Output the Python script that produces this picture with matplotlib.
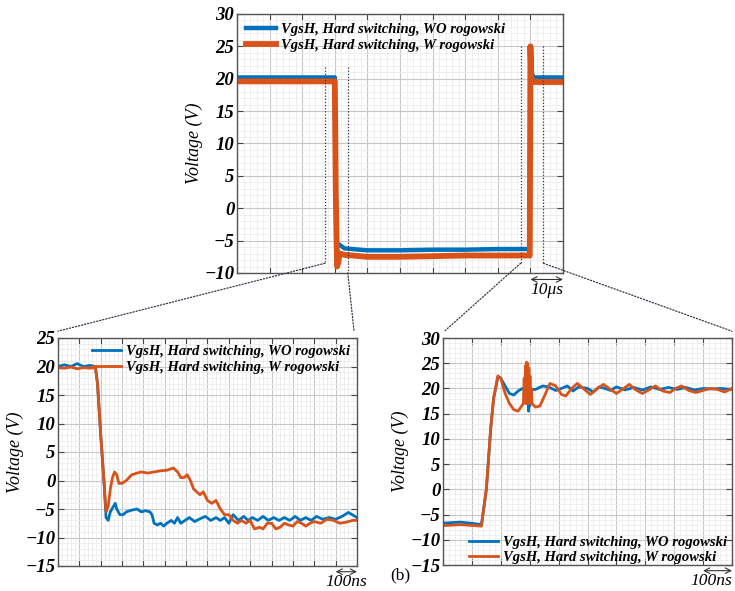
import matplotlib
matplotlib.use("Agg")
import matplotlib.pyplot as plt
import numpy as np
from matplotlib.patches import ConnectionPatch
from matplotlib.ticker import MultipleLocator

plt.rcParams['font.family'] = ['Liberation Serif', 'DejaVu Serif']

BLUE = '#0072BD'
ORANGE = '#D95319'
labels = ['VgsH, Hard switching, WO rogowski', 'VgsH, Hard switching, W rogowski']

# overview (us)
top_t_wo = [0, 30, 30.2, 30.6, 31, 33, 40, 50, 60, 70, 80, 89.8, 90, 90.3, 91, 100]
top_v_wo = [20.2, 20.2, 5, -6, -5.5, -6.2, -6.5, -6.5, -6.4, -6.4, -6.3, -6.3, 20, 21, 20.2, 20.2]
top_t_w = [0, 30, 30.3, 30.5, 30.7, 31, 31.5, 33, 40, 50, 60, 70, 80, 89.8, 90.0, 90.3, 91, 100]
top_v_w = [19.6, 19.6, 2.5, -4, -9, -8.5, -7, -7.2, -7.5, -7.5, -7.4, -7.3, -7.3, -7.3, 25, 20, 19.5, 19.5]

# turn-off zoom (ns)
off_t_wo = [0, 30, 60, 90, 120, 150, 175, 185, 200, 215, 225, 235, 245, 260, 268, 275, 290, 305,
            320, 345, 370, 390, 410, 430, 440, 450, 465, 480, 495, 510, 530, 545, 560, 575, 595,
            615, 640, 660, 690, 715, 740, 760, 780, 800, 820, 845, 870, 890, 910, 935, 960, 985,
            1010, 1035, 1060, 1085, 1110, 1135, 1160, 1185, 1210, 1240, 1270, 1300, 1330, 1360, 1400]
off_v_wo = [20, 20.3, 20, 20.5, 20, 20.2, 20, 17, 8, 0, -6.5, -7, -5.5, -4.5, -4, -5, -6, -6,
            -5.5, -5.2, -5, -5.5, -5.3, -5.5, -6, -7.5, -7.8, -7.5, -8, -7.5, -7, -7.5, -6.5, -7.5, -7,
            -6.5, -7.2, -6.8, -6.3, -7, -6.5, -7, -6.5, -7.5, -6, -7, -6.3, -7, -6.5, -7, -6.3, -7,
            -6.5, -7, -6.5, -7, -6.3, -7, -6.5, -7, -6.3, -6.8, -6.5, -6.8, -6.3, -5.6, -6.5]
off_t_w = [0, 30, 60, 90, 120, 150, 175, 185, 200, 215, 225, 235, 245, 255, 265, 275, 285, 300,
           320, 345, 370, 390, 420, 450, 480, 510, 540, 560, 575, 590, 605, 620, 635, 650, 665,
           680, 700, 720, 740, 760, 780, 800, 820, 840, 860, 880, 900, 920, 945, 960, 980, 1000,
           1020, 1040, 1060, 1080, 1100, 1120, 1140, 1160, 1180, 1200, 1230, 1260, 1290, 1320,
           1350, 1380, 1400]
off_v_w = [19.8, 19.7, 19.9, 19.6, 19.8, 19.7, 19.8, 17, 8, 0, -5.5, -4.5, -1.5, 0.5, 1.5, 1, -0.5,
           -0.5, 0, 1, 1.3, 1.5, 1.3, 1.5, 1.7, 1.8, 2.2, 1.5, 0.5, 0.5, 1, 0, -1.5, -2, -2.5,
           -2, -3.5, -4, -3.5, -5, -6, -6, -7, -7.5, -7, -7.5, -7, -8.5, -8.2, -8.5, -7.5, -7.5,
           -8.5, -8.2, -7.5, -7.8, -8, -7.2, -7.5, -8, -7.5, -7.2, -7.5, -6.8, -7, -7.5,
           -7.3, -7, -7]

# turn-on zoom (ns)
on_t_wo = [0, 60, 110, 133, 150, 165, 175, 190, 200, 215, 230, 245, 260, 275, 283,
           286, 288, 290, 292, 294, 296, 298, 300, 302, 304, 306,
           320, 345, 365, 390, 410, 430, 450, 470, 500, 520,
           540, 560, 580, 600, 630, 660, 690, 720, 750, 780, 810, 840, 870, 900, 930, 960, 1000]
on_v_wo = [-6.7, -6.5, -6.8, -7.0, 0, 12, 18, 22.3, 22, 20.5, 19, 18.7, 19.5, 20, 19.5,
           19.5, 18, 19.8, 17, 19.5, 15.5, 19.5, 16.5, 19.5, 18, 19.8,
           19.8, 20.5, 20.3, 19.6, 20, 20.5, 19.5, 20.3, 20, 19.3,
           20.3, 20, 19.6, 20.3, 19.7, 20.2, 19.7, 20.3, 19.8, 20.2, 19.8, 20.2, 19.7, 20, 19.9, 20, 19.8]
on_t_w = [0, 60, 110, 133, 150, 165, 175, 190, 200, 215, 230, 245, 260, 272,
          278, 281, 283, 285, 287, 289, 291, 293, 295, 297, 299, 301, 303, 305, 308,
          320, 335, 355, 370, 390, 410, 425, 445, 465,
          485, 510, 535, 555, 575, 600, 625, 645, 665, 690, 715, 735, 760, 785, 805, 825, 850,
          875, 900, 925, 950, 975, 1000]
on_v_w = [-7.2, -7.0, -7.2, -7.3, 0, 12, 18, 22.5, 22, 19, 17, 15.8, 15.5, 16.5,
          17, 22, 17.5, 24.5, 17, 25.2, 17, 25, 17, 24, 17, 22.5, 17.5, 20, 17,
          16.3, 16.5, 19, 21, 20.5, 18.8, 18.5, 20, 21,
          20, 18.8, 20, 20.8, 20, 19, 20, 20.8, 19.8, 19, 19.8, 20.5, 19.5, 19.2, 20, 20.5, 19.6,
          19.2, 19.6, 20, 19.8, 19.3, 20]

W, H = 735, 591
fig = plt.figure(figsize=(W / 100, H / 100), dpi=100)


def px_axes(l, t, r, b):
    return fig.add_axes([l / W, 1 - b / H, (r - l) / W, (b - t) / H])


def style(ax, xlim, ylim, xstep, ystep):
    ax.set_xlim(*xlim)
    ax.set_ylim(*ylim)
    ax.xaxis.set_major_locator(MultipleLocator(xstep))
    ax.xaxis.set_minor_locator(MultipleLocator(xstep / 5))
    ax.yaxis.set_major_locator(MultipleLocator(ystep))
    ax.yaxis.set_minor_locator(MultipleLocator(ystep / 5))
    ax.grid(which='major', color='#c8c8c8', lw=0.8)
    ax.grid(which='minor', color='#ececec', lw=0.6)
    ax.set_axisbelow(True)
    ax.tick_params(which='major', direction='in', top=True, right=True, length=4,
                   color='#444444', labelbottom=False, pad=2)
    ax.tick_params(which='minor', length=0)
    for lab in ax.get_yticklabels():
        lab.set_fontweight('bold')
        lab.set_fontstyle('italic')
        lab.set_fontsize(13.5)
    for s in ax.spines.values():
        s.set_color('#555555')
        s.set_linewidth(1.0)
    ax.set_ylabel('Voltage (V)', fontsize=13, fontstyle='italic', labelpad=1)


def scale_bar(ax, x0, x1, text, ha='center'):
    ax.annotate('', xy=(x0, -0.025), xytext=(x1, -0.025),
                xycoords=('data', 'axes fraction'), textcoords=('data', 'axes fraction'),
                arrowprops=dict(arrowstyle='<->', lw=0.8, color='#333333',
                                shrinkA=0, shrinkB=0), annotation_clip=False)
    tx = (x0 + x1) / 2 if ha == 'center' else x1
    ax.text(tx, -0.035, text, transform=ax.get_xaxis_transform(),
            ha=ha, va='top', fontsize=12.5, fontstyle='italic', clip_on=False)


leg_font = dict(family='Liberation Serif', weight='bold', style='italic', size=10.5)

# overview
ax0 = px_axes(237, 14, 563, 273)
style(ax0, (0, 100), (-10, 30), 10, 5)
ax0.plot(top_t_wo, top_v_wo, color=BLUE, lw=3.2, label=labels[0])
ax0.plot(top_t_w, top_v_w, color=ORANGE, lw=4.2, label=labels[1])
ax0.legend(loc='upper left', frameon=False, prop=leg_font, handlelength=2.1,
           borderaxespad=0.2, labelspacing=0.2, handletextpad=0.3)
scale_bar(ax0, 90, 100, '10μs')

# turn-off
ax1 = px_axes(58, 338, 357, 566)
style(ax1, (0, 1400), (-15, 25), 100, 5)
ax1.plot(off_t_wo, off_v_wo, color=BLUE, lw=2.0, label=labels[0])
ax1.plot(off_t_w, off_v_w, color=ORANGE, lw=2.0, label=labels[1])
ax1.legend(loc='upper right', frameon=False, prop=leg_font, handlelength=2.0,
           borderaxespad=0.1, labelspacing=0.15, handletextpad=0.3)
scale_bar(ax1, 1300, 1400, '100ns')

# turn-on
ax2 = px_axes(443, 338, 732, 565)
style(ax2, (0, 1000), (-15, 30), 100, 5)
ax2.plot(on_t_wo, on_v_wo, color=BLUE, lw=2.0, label=labels[0])
ax2.plot(on_t_w, on_v_w, color=ORANGE, lw=2.0, label=labels[1])
ax2.legend(loc='lower left', bbox_to_anchor=(0.07, -0.02), frameon=False, prop=leg_font,
           handlelength=2.0, labelspacing=0.1, handletextpad=0.3, borderaxespad=0)
scale_bar(ax2, 900, 1000, '100ns', ha='right')

fig.text(400 / W, 1 - 575 / H, '(b)', fontsize=12.5, ha='center', va='center')

# zoom markers and connectors
dot = dict(color='#333344', lw=0.9, linestyle=(0, (1, 1.5)))
for x, ytop in [(27, 21.8), (34, 21.8), (87, 25), (94, 25)]:
    ax0.plot([x, x], [ytop, -8.5], **dot)
ax0.plot([34, 34], [-8.5, -10], **dot)
links = [((27, -8.5), ax1, (0.0, 1.03)), ((34, -10), ax1, (0.99, 1.03)),
         ((87, -8.5), ax2, (0.005, 1.03)), ((94, -8.5), ax2, (1.0, 1.03))]
for xyA, axB, xyB in links:
    cp = ConnectionPatch(xyA=xyA, coordsA=ax0.transData, xyB=xyB, coordsB=axB.transAxes, **dot)
    fig.add_artist(cp)

fig.savefig('out.png', dpi=100)
